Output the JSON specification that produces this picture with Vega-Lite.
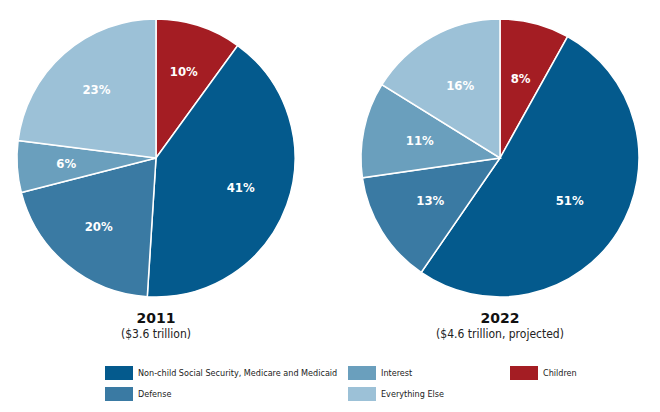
{
  "$schema": "https://vega.github.io/schema/vega-lite/v6.json",
  "padding": {"left": 14, "top": 16, "right": 5, "bottom": 5},
  "background": "white",
  "bounds": "flush",
  "data": {
    "values": [
      {"year": "2011", "category": "Children", "value": 0.10, "ord": 1},
      {"year": "2011", "category": "Non-child Social Security, Medicare and Medicaid", "value": 0.41, "ord": 2},
      {"year": "2011", "category": "Defense", "value": 0.20, "ord": 3},
      {"year": "2011", "category": "Interest", "value": 0.06, "ord": 4},
      {"year": "2011", "category": "Everything Else", "value": 0.23, "ord": 5},
      {"year": "2022", "category": "Children", "value": 0.08, "ord": 1},
      {"year": "2022", "category": "Non-child Social Security, Medicare and Medicaid", "value": 0.51, "ord": 2},
      {"year": "2022", "category": "Defense", "value": 0.13, "ord": 3},
      {"year": "2022", "category": "Interest", "value": 0.11, "ord": 4},
      {"year": "2022", "category": "Everything Else", "value": 0.16, "ord": 5}
    ]
  },
  "hconcat": [
    {
      "width": 280, "height": 280,
      "transform": [{"filter": "datum.year == '2011'"}],
      "title": {"text": "2011", "subtitle": "($3.6 trillion)", "orient": "bottom", "anchor": "middle", "frame": "group", "offset": 12, "dy": -101},
      "encoding": {
        "theta": {"field": "value", "type": "quantitative", "stack": true},
        "order": {"field": "ord", "type": "quantitative"}
      },
      "layer": [
        {
          "mark": {"type": "arc", "outerRadius": 139, "stroke": "white", "strokeWidth": 1.5},
          "encoding": {
            "color": {
              "field": "category", "type": "nominal",
              "scale": {
                "domain": ["Non-child Social Security, Medicare and Medicaid", "Defense", "Interest", "Everything Else", "Children"],
                "range": ["#045a8d", "#3a7aa3", "#6a9fbd", "#9cc1d7", "#a41d23"]
              },
              "legend": {"title": null, "values": ["Non-child Social Security, Medicare and Medicaid", "Defense"], "legendX": 89, "legendY": 341}
            }
          }
        },
        {
          "mark": {"type": "text", "radius": 90, "color": "white", "fontSize": 13, "fontWeight": "bold", "font": "DejaVu Sans Condensed, sans-serif"},
          "encoding": {"text": {"field": "value", "type": "quantitative", "format": ".0%"}}
        }
      ]
    },
    {
      "width": 280, "height": 280,
      "transform": [{"filter": "datum.year == '2022'"}],
      "title": {"text": "2022", "subtitle": "($4.6 trillion, projected)", "orient": "bottom", "anchor": "middle", "frame": "group", "offset": 12, "dy": -101},
      "encoding": {
        "theta": {"field": "value", "type": "quantitative", "stack": true},
        "order": {"field": "ord", "type": "quantitative"}
      },
      "layer": [
        {
          "mark": {"type": "arc", "outerRadius": 139, "stroke": "white", "strokeWidth": 1.5},
          "encoding": {
            "color": {
              "field": "category", "type": "nominal",
              "scale": {
                "domain": ["Non-child Social Security, Medicare and Medicaid", "Defense", "Interest", "Everything Else", "Children"],
                "range": ["#045a8d", "#3a7aa3", "#6a9fbd", "#9cc1d7", "#a41d23"]
              },
              "legend": {"title": null, "values": ["Interest", "Everything Else", "Children"], "columns": 2, "columnPadding": 66, "legendX": -12, "legendY": 341}
            }
          }
        },
        {
          "mark": {"type": "text", "radius": 82, "color": "white", "fontSize": 13, "fontWeight": "bold", "font": "DejaVu Sans Condensed, sans-serif"},
          "encoding": {"text": {"field": "value", "type": "quantitative", "format": ".0%"}}
        }
      ]
    }
  ],
  "spacing": 64,
  "resolve": {"scale": {"color": "independent"}, "legend": {"color": "independent"}},
  "config": {
    "view": {"stroke": null},
    "title": {"font": "DejaVu Sans, sans-serif", "fontSize": 14, "fontWeight": "bold", "color": "#111", "subtitleFont": "DejaVu Sans Condensed, sans-serif", "subtitleFontSize": 12, "subtitleColor": "#222", "subtitlePadding": 0},
    "legend": {
      "orient": "none",
      "direction": "vertical", "rowPadding": -3,
      "symbolType": "M-1,-0.5H1V0.5H-1Z", "symbolSize": 784, "symbolStrokeWidth": 0, "symbolOpacity": 1,
      "labelFont": "DejaVu Sans Condensed, sans-serif", "labelFontSize": 9, "labelColor": "#222", "labelOffset": 5, "labelLimit": 400
    }
  }
}
